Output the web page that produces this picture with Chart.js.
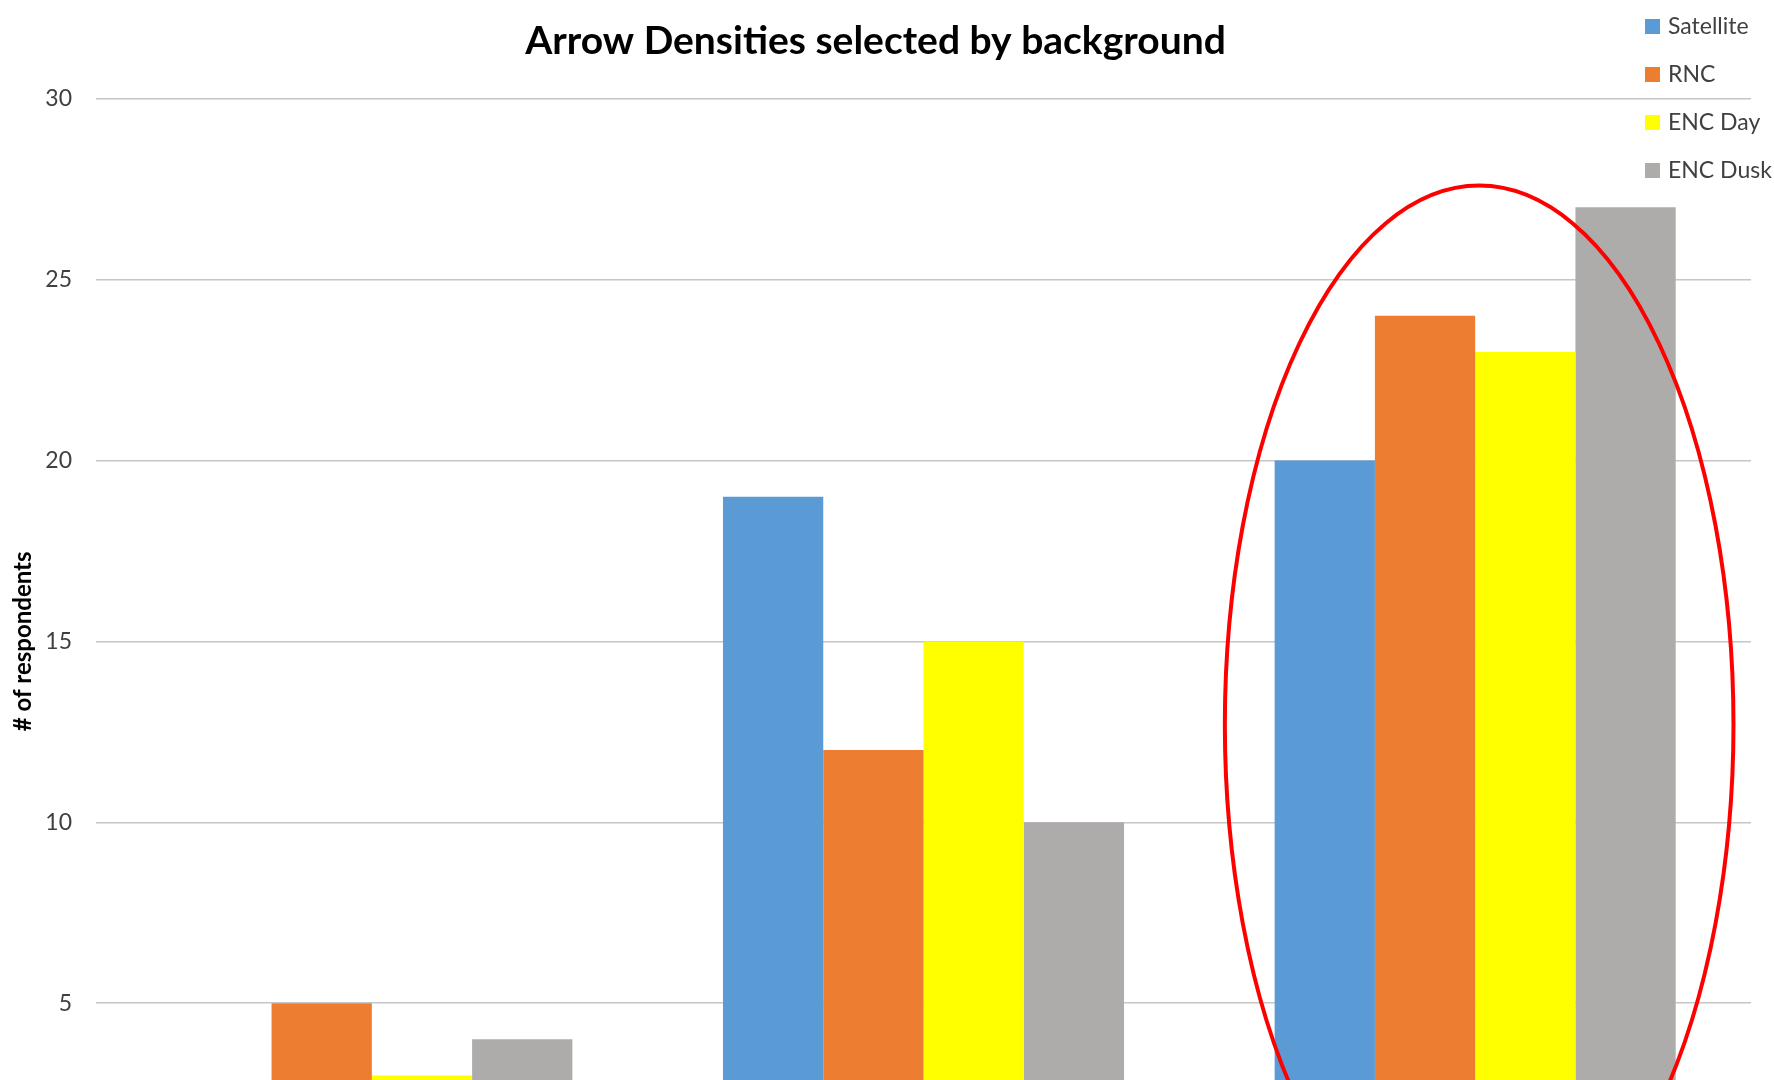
<!DOCTYPE html>
<html>
<head>
<meta charset="utf-8">
<script src="https://cdn.jsdelivr.net/npm/chart.js@4.4.1/dist/chart.umd.min.js"></script>
<style>
  html, body { margin: 0; padding: 0; background: #fff; overflow: hidden; }
  #densityChart { display: block; }
</style>
</head>
<body>
<canvas id="densityChart" width="1774" height="1240"></canvas>
<script>
  // data
  const densities = ['Low', 'Medium', 'High'];
  const satellite = [2, 19, 20];
  const rnc = [5, 12, 24];
  const encDay = [3, 15, 23];
  const encDusk = [4, 10, 27];
  const yTicks = [0, 5, 10, 15, 20, 25, 30];

  const colors = ['#5b9bd5', '#ed7d31', '#ffff00', '#aeabab'];

  // legend sits over the top right corner of the plot
  const sideLegend = {
    id: 'sideLegend',
    afterDraw(chart) {
      const ctx = chart.ctx;
      ctx.save();
      ctx.font = '23px Lato';
      ctx.textBaseline = 'middle';
      chart.data.datasets.forEach((ds, i) => {
        const y = 26 + i * 48;
        ctx.fillStyle = ds.backgroundColor;
        ctx.fillRect(1645, y - 7, 15, 15);
        ctx.fillStyle = '#404040';
        ctx.fillText(ds.label, 1668, y + 1);
      });
      ctx.restore();
    }
  };

  // red ring around the last group
  const ring = {
    id: 'ring',
    afterDatasetsDraw(chart) {
      const x = chart.scales.x, y = chart.scales.y;
      const step = x.getPixelForValue(1) - x.getPixelForValue(0);
      const cx = x.getPixelForValue(2) + 4;
      const cy = y.getPixelForValue(12.7);
      const rx = step * 0.461;
      const ry = cy - y.getPixelForValue(27.6);
      const ctx = chart.ctx;
      ctx.save();
      ctx.strokeStyle = '#ff0000';
      ctx.lineWidth = 4;
      ctx.beginPath();
      ctx.ellipse(cx, cy, rx, ry, 0, 0, Math.PI * 2);
      ctx.stroke();
      ctx.restore();
    }
  };

  new Chart(document.getElementById('densityChart'), {
    type: 'bar',
    data: {
      labels: densities,
      datasets: [
        { label: 'Satellite', data: satellite, backgroundColor: colors[0] },
        { label: 'RNC', data: rnc, backgroundColor: colors[1] },
        { label: 'ENC Day', data: encDay, backgroundColor: colors[2] },
        { label: 'ENC Dusk', data: encDusk, backgroundColor: colors[3] }
      ]
    },
    options: {
      responsive: false,
      animation: false,
      categoryPercentage: 0.727,
      barPercentage: 1,
      layout: { padding: { left: 0, right: 23, top: 0, bottom: 0 } },
      plugins: {
        legend: { display: false },
        tooltip: { enabled: false },
        title: {
          display: true,
          text: 'Arrow Densities selected by background',
          color: '#000',
          font: { family: 'Lato', size: 39, weight: 'bold', lineHeight: 1.2 },
          padding: { top: 18, bottom: 34 }
        }
      },
      scales: {
        x: {
          grid: { display: false },
          border: { display: true, color: '#c6c6c6' },
          ticks: { color: '#404040', font: { family: 'Lato', size: 23 } },
          afterFit(scale) { scale.height = 56; }
        },
        y: {
          min: 0,
          max: 30,
          afterBuildTicks(scale) { scale.ticks = yTicks.map(v => ({ value: v })); },
          grid: { color: '#c6c6c6', lineWidth: 1.5, drawTicks: false },
          border: { display: false },
          ticks: { color: '#404040', padding: 24, font: { family: 'Lato', size: 23 } },
          title: {
            display: true,
            text: '# of respondents',
            color: '#000',
            font: { family: 'Lato', size: 24, weight: 'bold', lineHeight: 1.2 },
            padding: { top: 9, bottom: 0 }
          },
          afterFit(scale) { scale.width = 96; }
        }
      }
    },
    plugins: [sideLegend, ring]
  });
</script>
</body>
</html>
